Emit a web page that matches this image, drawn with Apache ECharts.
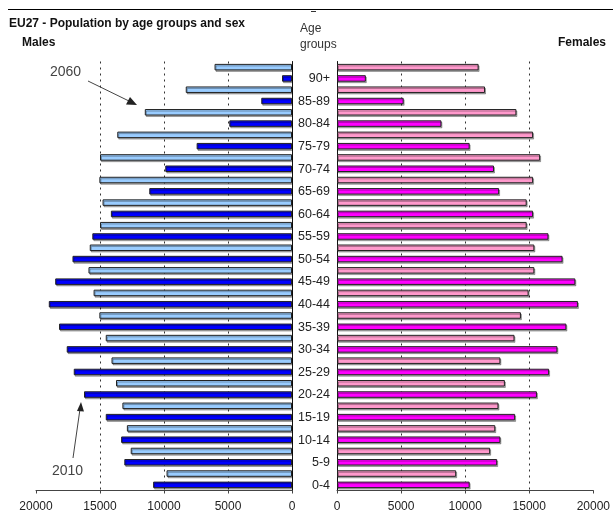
<!DOCTYPE html>
<html>
<head>
<meta charset="utf-8">
<script src="https://cdn.jsdelivr.net/npm/echarts@6/dist/echarts.min.js"></script>
<style>
html,body{margin:0;padding:0;background:#fff;}
#chart{width:613px;height:515px;}
</style>
</head>
<body>
<div id="chart"></div>
<script>
var ageGroups = ['0-4','5-9','10-14','15-19','20-24','25-29','30-34','35-39','40-44','45-49','50-54','55-59','60-64','65-69','70-74','75-79','80-84','85-89','90+'];
var males2010 = [10850,13100,13350,14550,16250,17050,17600,18200,19000,18500,17150,15600,14150,11150,9900,7450,4900,2400,780];
var males2060 = [9800,12600,12900,13250,13750,14100,14550,15050,15500,15900,15800,15000,14800,15050,15000,13650,11500,8300,6050];
var females2010 = [10350,12500,12750,13900,15600,16550,17200,17900,18800,18600,17600,16500,15300,12650,12250,10350,8150,5200,2250];
var females2060 = [9300,11950,12350,12600,13100,12750,13850,14350,14950,15400,15400,14800,14800,15300,15850,15300,14000,11550,11050];
var xTicks = [0,5000,10000,15000,20000];

var chart = echarts.init(document.getElementById('chart'), null, {renderer:'canvas'});
var FONT = 'Liberation Sans, Arial, sans-serif';
var gridTop = 61.5, gridBottom = 24.5;
var bw = 6.5;
function barStyle(color){
  return {color:color, borderColor:'#222', borderWidth:1,
    shadowColor:'rgba(0,0,0,0.3)', shadowOffsetX:1, shadowOffsetY:1.5, shadowBlur:0};
}
var valueAxisCommon = {
  type:'value', min:xTicks[0], max:xTicks[xTicks.length-1], interval:5000,
  axisLine:{show:true, lineStyle:{color:'#444', width:1}},
  axisTick:{show:true, length:3, lineStyle:{color:'#444'}},
  axisLabel:{color:'#222', fontSize:12, fontFamily:FONT, margin:10, formatter:function(v){return String(v);}},
  splitLine:{show:true, showMinLine:false, showMaxLine:false, lineStyle:{color:'#333', type:[2,4], width:1}}
};
var option = {
  animation:false,
  backgroundColor:'#fff',
  grid:[
    {left:36, right:321, top:gridTop, bottom:gridBottom, containLabel:false},
    {left:337, right:17, top:gridTop, bottom:gridBottom, containLabel:false}
  ],
  xAxis:[
    Object.assign({}, valueAxisCommon, {gridIndex:0, inverse:true}),
    Object.assign({}, valueAxisCommon, {gridIndex:1})
  ],
  yAxis:[
    {type:'category', gridIndex:0, data:ageGroups, position:'right',
      axisLine:{show:true, lineStyle:{color:'#111', width:1}}, axisTick:{show:false}, axisLabel:{show:false}},
    {type:'category', gridIndex:1, data:ageGroups, position:'left',
      axisLine:{show:true, lineStyle:{color:'#111', width:1}}, axisTick:{show:false},
      axisLabel:{show:true, interval:0, showMinLabel:true, showMaxLabel:true, hideOverlap:false,
        color:'#222', fontSize:12.5, fontFamily:FONT, margin:7, lineHeight:12,
        formatter:function(v){return '\n' + v;}}}
  ],
  series:[
    {name:'Males 2060', type:'bar', xAxisIndex:0, yAxisIndex:0, data:males2060, barWidth:bw, barGap:'74%', itemStyle:barStyle('#99CCFF')},
    {name:'Males 2010', type:'bar', xAxisIndex:0, yAxisIndex:0, data:males2010, barWidth:bw, barGap:'74%', itemStyle:barStyle('#0000FF')},
    {name:'Females 2060', type:'bar', xAxisIndex:1, yAxisIndex:1, data:females2060, barWidth:bw, barGap:'74%', itemStyle:barStyle('#FF99CC')},
    {name:'Females 2010', type:'bar', xAxisIndex:1, yAxisIndex:1, data:females2010, barWidth:bw, barGap:'74%', itemStyle:barStyle('#FF00FF')}
  ],
  graphic:[
    {type:'line', shape:{x1:8, y1:9.5, x2:613, y2:9.5}, style:{stroke:'#000', lineWidth:1.2}},
    {type:'line', shape:{x1:311, y1:11.5, x2:316, y2:11.5}, style:{stroke:'#333', lineWidth:1}},
    {type:'text', left:9, top:18, style:{text:'EU27 - Population by age groups and sex', font:'bold 12px '+FONT, fill:'#111'}},
    {type:'text', left:22, top:37, style:{text:'Males', font:'bold 12px '+FONT, fill:'#111'}},
    {type:'text', left:300, top:23, style:{text:'Age', font:'12px '+FONT, fill:'#333'}},
    {type:'text', left:300, top:39, style:{text:'groups', font:'12px '+FONT, fill:'#333'}},
    {type:'text', right:7, top:37, style:{text:'Females', font:'bold 12px '+FONT, fill:'#111'}},
    {type:'text', left:50, top:65, style:{text:'2060', font:'14px '+FONT, fill:'#444'}},
    {type:'line', shape:{x1:88, y1:81, x2:131, y2:102}, style:{stroke:'#444', lineWidth:1}},
    {type:'polygon', shape:{points:[[137,105],[126,104.5],[130,97]]}, style:{fill:'#222'}},
    {type:'text', left:52, top:464, style:{text:'2010', font:'14px '+FONT, fill:'#444'}},
    {type:'line', shape:{x1:73, y1:458, x2:80, y2:409}, style:{stroke:'#444', lineWidth:1}},
    {type:'polygon', shape:{points:[[81,402],[77,411],[84,411.5]]}, style:{fill:'#222'}}
  ]
};
chart.setOption(option);
</script>
</body>
</html>
